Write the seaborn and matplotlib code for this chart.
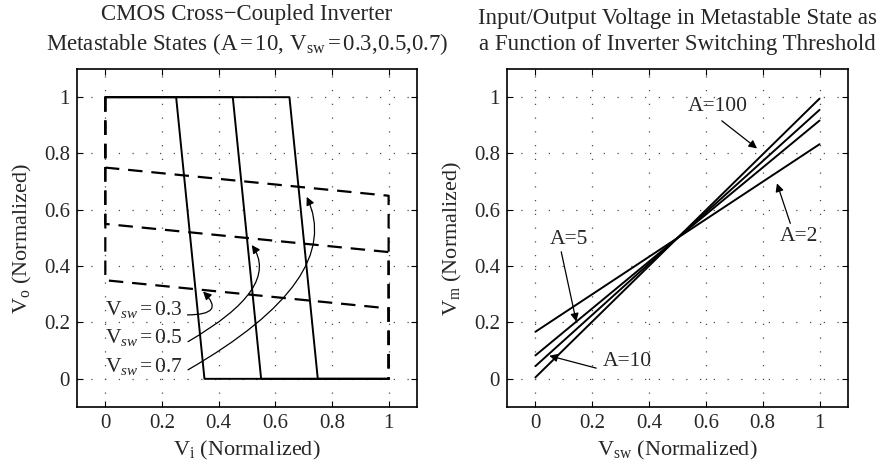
import numpy as np
import pandas as pd
import matplotlib
matplotlib.use("Agg")
import matplotlib.pyplot as plt
import seaborn as sns

# ---------------- data ----------------
# Left panel: transfer curves (A = 10)
vsw_values = [0.3, 0.5, 0.7]
# solid (inverter 1): Vo vs Vi
solid_x = {0.3: [0.0, 0.25, 0.35, 1.0], 0.5: [0.0, 0.45, 0.55, 1.0], 0.7: [0.0, 0.65, 0.75, 1.0]}
solid_y = [1.0, 1.0, 0.0, 0.0]
# dashed (inverter 2, mirrored)
dashed_x = [0.0, 0.0, 1.0, 1.0]
dashed_y = {0.3: [1.0, 0.35, 0.25, 0.0], 0.5: [1.0, 0.55, 0.45, 0.0], 0.7: [1.0, 0.75, 0.65, 0.0]}

# Right panel: metastable voltage vs switching threshold
gains = [2, 5, 10, 100]
vsw_axis = [0.0, 1.0]
vm_values = {2: [0.167, 0.833], 5: [0.083, 0.917], 10: [0.045, 0.955], 100: [0.005, 0.995]}

tick_vals = [0, 0.2, 0.4, 0.6, 0.8, 1]
tick_labels = ["0", "0.2", "0.4", "0.6", "0.8", "1"]

# ---------------- style ----------------
sns.set_style("ticks")
plt.rcParams["font.family"] = ["Liberation Serif", "DejaVu Serif"]
plt.rcParams["mathtext.fontset"] = "custom"
plt.rcParams["mathtext.rm"] = "Liberation Serif"
plt.rcParams["mathtext.it"] = "Liberation Serif:italic"
plt.rcParams["mathtext.bf"] = "Liberation Serif:bold"

TITLE_FS = 16.5
LABEL_FS = 16
TICK_FS = 15
ANN_FS = 15.5

fig = plt.figure(figsize=(8.93, 4.71), dpi=100)
ax1 = fig.add_axes([0.0862, 0.1359, 0.3807, 0.7176])
ax2 = fig.add_axes([0.5677, 0.1359, 0.3819, 0.7176])

def style_axes(ax):
    ax.set_xlim(-0.1, 1.1)
    ax.set_ylim(-0.1, 1.1)
    ax.set_xticks(tick_vals)
    ax.set_xticklabels(tick_labels)
    ax.set_yticks(tick_vals)
    ax.set_yticklabels(tick_labels)
    ax.tick_params(direction="in", top=True, right=True, length=4, width=0.8,
                   labelsize=TICK_FS, color="k", pad=5)
    ax.grid(True, color="0.3", linestyle=(0, (1, 10)), linewidth=0.9)
    for s in ax.spines.values():
        s.set_linewidth(1.2)
        s.set_color("k")

# ---------------- left panel ----------------
for v in vsw_values:
    sns.lineplot(x=solid_x[v], y=solid_y, ax=ax1, sort=False, estimator=None,
                 color="k", linewidth=1.4)
    sns.lineplot(x=dashed_x, y=dashed_y[v], ax=ax1, sort=False, estimator=None,
                 color="k", linewidth=1.6)
    ax1.lines[-1].set_linestyle((0, (6.5, 4.0)))

style_axes(ax1)
ax1.set_xlabel(r"V$_\mathrm{i}$ (Normalized)", fontsize=LABEL_FS, labelpad=4)
ax1.set_ylabel(r"V$_\mathrm{o}$ (Normalized)", fontsize=LABEL_FS, labelpad=7)
ax1.set_title("CMOS Cross\u2212Coupled Inverter\n"
              r"Metastable States (A$\,$=$\,$10, V$_\mathrm{sw}$$\,$=$\,$0.3,0.5,0.7)",
              fontsize=TITLE_FS, pad=14, linespacing=1.3)

arrow_kw = dict(arrowstyle="-|>", color="k", lw=0.9, mutation_scale=12,
                shrinkA=0, shrinkB=0)
ax1.annotate("", xy=(0.345, 0.31), xytext=(0.29, 0.227),
             arrowprops=dict(connectionstyle="angle3,angleA=0,angleB=-45", **arrow_kw))
ax1.annotate("", xy=(0.517, 0.475), xytext=(0.292, 0.132),
             arrowprops=dict(connectionstyle="angle3,angleA=30,angleB=-55", **arrow_kw))
ax1.annotate("", xy=(0.711, 0.646), xytext=(0.292, 0.032),
             arrowprops=dict(connectionstyle="angle3,angleA=30,angleB=-65", **arrow_kw))
for v, ty in zip(vsw_values, [0.245, 0.145, 0.043]):
    ax1.text(0.0, ty, r"V$_{sw}$$\,$=$\,$" + f"{v}", fontsize=ANN_FS, ha="left", va="center")

# ---------------- right panel ----------------
for a in gains:
    sns.lineplot(x=vsw_axis, y=vm_values[a], ax=ax2, sort=False, estimator=None,
                 color="k", linewidth=1.4)

style_axes(ax2)
ax2.set_xlabel(r"V$_\mathrm{sw}$ (Normalized)", fontsize=LABEL_FS, labelpad=4)
ax2.set_ylabel(r"V$_\mathrm{m}$ (Normalized)", fontsize=LABEL_FS, labelpad=7)
ax2.set_title("Input/Output Voltage in Metastable State as\n"
              "a Function of Inverter Switching Threshold",
              fontsize=TITLE_FS, pad=14, linespacing=1.3)

ann_kw = dict(arrowstyle="-|>", color="k", lw=0.9, mutation_scale=12, shrinkA=0, shrinkB=0)
ax2.text(0.641, 0.966, "A=100", fontsize=ANN_FS, ha="center", va="center")
ax2.annotate("", xy=(0.78, 0.818), xytext=(0.656, 0.916), arrowprops=ann_kw)
ax2.text(0.927, 0.505, "A=2", fontsize=ANN_FS, ha="center", va="center")
ax2.annotate("", xy=(0.85, 0.694), xytext=(0.897, 0.552), arrowprops=ann_kw)
ax2.text(0.119, 0.495, "A=5", fontsize=ANN_FS, ha="center", va="center")
ax2.annotate("", xy=(0.144, 0.203), xytext=(0.091, 0.451), arrowprops=ann_kw)
ax2.text(0.323, 0.061, "A=10", fontsize=ANN_FS, ha="center", va="center")
ax2.annotate("", xy=(0.049, 0.082), xytext=(0.214, 0.038), arrowprops=ann_kw)

fig.savefig("out.png", dpi=100, facecolor="white")
